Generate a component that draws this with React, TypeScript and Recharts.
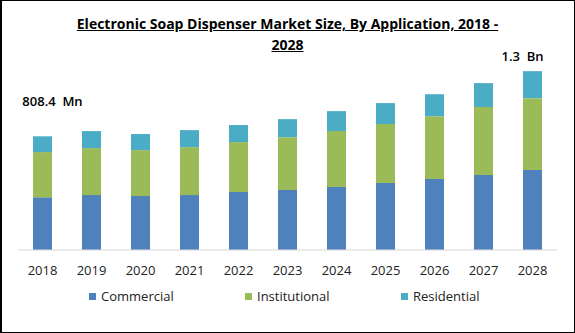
import React from "react";
import { BarChart, Bar, XAxis, YAxis, LabelList, Legend } from "recharts";

const years = ["2018", "2019", "2020", "2021", "2022", "2023", "2024", "2025", "2026", "2027", "2028"];
const commercial = [374, 390, 383, 390, 412, 426, 447, 476, 504, 533, 568];
const institutional = [322, 334, 327, 341, 355, 376, 398, 419, 447, 483, 511];
const residential = [112, 121, 114, 121, 121, 128, 142, 149, 156, 170, 192];
const totalLabels: Record<string, string> = { "2018": "808.4\u00a0 Mn", "2028": "1.3\u00a0 Bn" };
const titleLines = ["Electronic Soap Dispenser Market Size, By Application, 2018 -", "2028"];

const data = years.map((y, i) => ({
  year: y,
  Commercial: commercial[i],
  Institutional: institutional[i],
  Residential: residential[i],
}));

const FONT = "'Open Sans', sans-serif";

const TotalLabel = (props: any) => {
  const { x, y, width, index } = props;
  const label = totalLabels[years[index]];
  if (!label) return null;
  const first = index === 0;
  const cx = x + width / 2 + (first ? 10 : -10);
  const cy = y - (first ? 35 : 15);
  return (
    <text x={cx} y={cy} textAnchor="middle" dominantBaseline="central" fontSize={13} fontWeight={600} fill="#000" fontFamily={FONT}>
      {label}
    </text>
  );
};

const LegendContent = (props: any) => {
  const { payload } = props;
  return (
    <div style={{ display: "flex", justifyContent: "flex-start", paddingLeft: 71, height: 20, alignItems: "center" }}>
      {payload.map((p: any) => (
        <div key={p.value} style={{ width: 165, display: "flex", alignItems: "center" }}>
          <span style={{ display: "inline-block", width: 7, height: 7, background: p.color, marginRight: 5 }} />
          <span style={{ fontSize: 13, color: "#222", fontFamily: FONT }}>{p.value}</span>
        </div>
      ))}
    </div>
  );
};

export default function App() {
  return (
    <div style={{ position: "absolute", left: 0, top: 0, width: 575, height: 333, background: "#fff", fontFamily: FONT }}>
      <BarChart width={575} height={333} data={data} margin={{ top: 53, right: 18, left: 18, bottom: 27 }} barSize={19}>
        <XAxis
          dataKey="year"
          axisLine={{ stroke: "#d9d9d9" }}
          tickLine={false}
          tickMargin={10}
          height={36}
          tick={{ fontSize: 13, fill: "#222", fontFamily: FONT }}
          interval={0}
        />
        <YAxis hide domain={[0, 1400]} />
        <Legend verticalAlign="bottom" content={<LegendContent />} />
        <Bar dataKey="Commercial" stackId="a" fill="#4f81bd" isAnimationActive={false} />
        <Bar dataKey="Institutional" stackId="a" fill="#9bbb59" isAnimationActive={false} />
        <Bar dataKey="Residential" stackId="a" fill="#4bacc6" isAnimationActive={false}>
          <LabelList dataKey="Residential" content={<TotalLabel />} />
        </Bar>
      </BarChart>
      <div
        style={{
          position: "absolute",
          left: 0,
          top: 13,
          width: 575,
          textAlign: "center",
          fontWeight: 700,
          fontSize: 14,
          lineHeight: "21px",
          textDecoration: "underline",
          color: "#000",
          fontFamily: FONT,
        }}
      >
        <div>{titleLines[0]}</div>
        <div>{titleLines[1]}</div>
      </div>
      <div style={{ position: "absolute", left: 0, top: 0, width: 575, height: 333, boxSizing: "border-box", border: "1px solid #000", borderLeftWidth: 2, pointerEvents: "none" }} />
    </div>
  );
}
